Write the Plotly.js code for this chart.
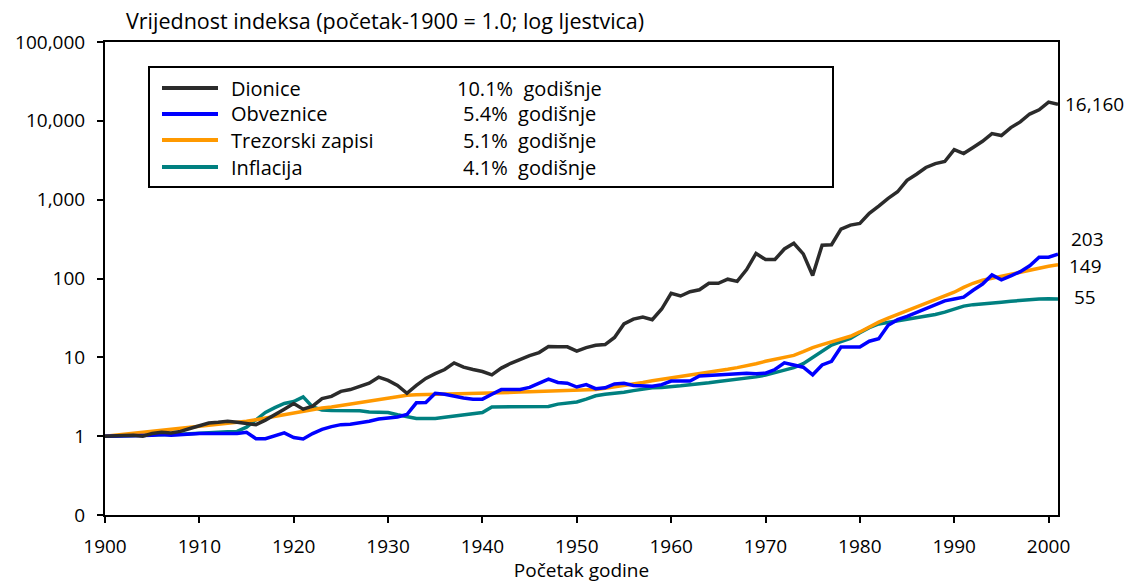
<!DOCTYPE html>
<html>
<head>
<meta charset="utf-8">
<script src="https://cdn.plot.ly/plotly-3.0.1.min.js"></script>
<style>html,body{margin:0;padding:0;background:#fff;}#chart{width:1126px;height:583px;}</style>
</head>
<body>
<div id="chart"></div>
<script>
// ---- Data (index value, start-1900 = 1.0) ----
const years = [];
for (let y = 1900; y <= 2001; y++) years.push(y);

const dionice = [1.0,1.0,1.02,1.03,1.0,1.08,1.12,1.1,1.15,1.25,
  1.35,1.47,1.5,1.55,1.5,1.45,1.4,1.6,1.9,2.2,
  2.6,2.2,2.4,3.0,3.2,3.7,3.9,4.3,4.7,5.6,
  5.1,4.4,3.5,4.4,5.4,6.2,7.0,8.5,7.5,7.0,
  6.6,6.0,7.3,8.4,9.5,10.5,11.5,13.7,13.6,13.6,
  12.0,13.3,14.2,14.5,17.9,26.5,30.5,32.5,30.0,41,
  65,60,68,72,87,87,98,92,130,208,
  174,174,237,280,205,109,265,268,422,475,
  500,670,830,1040,1260,1760,2100,2560,2870,3050,
  4300,3850,4600,5500,6900,6500,8200,9700,12200,13800,
  17300,16160];

const obveznice = [1.0,1.0,1.0,1.0,1.02,1.03,1.05,1.03,1.05,1.08,
  1.08,1.08,1.08,1.08,1.08,1.12,0.93,0.93,1.0,1.1,
  0.96,0.92,1.08,1.22,1.32,1.4,1.42,1.47,1.55,1.65,
  1.68,1.75,1.88,2.65,2.68,3.5,3.4,3.2,3.05,2.95,
  2.95,3.4,3.9,3.9,3.9,4.15,4.7,5.3,4.8,4.7,
  4.2,4.5,4.0,4.1,4.6,4.7,4.4,4.3,4.3,4.5,
  5.0,5.0,5.0,5.8,5.9,5.9,6.0,6.2,6.3,6.2,
  6.3,7.0,8.5,8.0,7.5,6.0,8.0,8.9,13.5,13.5,
  13.5,16.0,17.2,25.5,30,33,37,42,47,52,
  55,58,71,85,111,96,108,122,145,186,
  186,203];

const trezorski = [1.0,1.03,1.06,1.09,1.12,1.15,1.18,1.22,1.26,1.29,
  1.32,1.36,1.4,1.44,1.5,1.55,1.62,1.7,1.78,1.87,
  1.97,2.1,2.2,2.27,2.35,2.45,2.56,2.68,2.8,2.93,
  3.08,3.18,3.3,3.35,3.37,3.38,3.39,3.4,3.42,3.43,
  3.46,3.5,3.54,3.58,3.62,3.66,3.7,3.73,3.76,3.78,
  3.8,3.83,3.9,4.05,4.2,4.35,4.55,4.8,5.05,5.25,
  5.45,5.7,5.95,6.15,6.4,6.7,7.05,7.4,7.8,8.3,
  8.9,9.5,10.0,10.6,11.8,13.3,14.5,15.8,17.0,18.5,
  21.0,24.5,28.0,31.5,35,38.5,43,48,53,59,
  67,77,87,95,101,107,114,120,127,135,
  143,149];

const inflacija = [1.0,1.0,1.01,1.02,1.03,1.03,1.04,1.05,1.06,1.07,
  1.08,1.1,1.12,1.14,1.15,1.3,1.6,2.0,2.3,2.6,
  2.75,3.15,2.35,2.15,2.12,2.13,2.13,2.1,2.02,2.0,
  2.0,1.87,1.75,1.68,1.67,1.68,1.74,1.8,1.84,1.9,
  2.0,2.35,2.35,2.35,2.35,2.35,2.36,2.38,2.55,2.65,
  2.72,2.95,3.25,3.4,3.48,3.6,3.78,3.95,4.1,4.15,
  4.2,4.35,4.5,4.6,4.75,4.95,5.1,5.25,5.4,5.65,
  5.95,6.4,6.9,7.4,8.3,10.0,12.2,14.3,15.8,17.4,
  20.5,23.8,26.5,27.7,29.2,30.6,32.3,33.4,35,37.4,
  40.8,44.6,46.6,47.4,48.6,50.0,51.5,53.0,54.5,55.0,
  55.3,55];

const seriesNames = ['Dionice','Obveznice','Trezorski zapisi','Inflacija'];
const seriesRates = ['10.1%\u00a0\u00a0godišnje','5.4%\u00a0\u00a0godišnje','5.1%\u00a0\u00a0godišnje','4.1%\u00a0\u00a0godišnje'];
const endLabels = ['16,160','203','149','55'];
const yTickVals = [0.1,1,10,100,1000,10000,100000];
const yTickText = ['0','1','10','100','1,000','10,000','100,000'];
const xTickVals = [1900,1910,1920,1930,1940,1950,1960,1970,1980,1990,2000];

// ---- Styling ----
const seriesData = [dionice, obveznice, trezorski, inflacija];
const colors = ['#2b2b2b','#0000ff','#ff9900','#008080'];
const FONT = '"Open Sans", "Noto Sans", sans-serif';
const TXT = 20, TICK = 19, END = 19, TITLE = 21.5;

const traces = seriesData.map((d, i) => ({
  x: years, y: d, type: 'scatter', mode: 'lines', name: seriesNames[i],
  line: {color: colors[i], width: 3.5}, hoverinfo: 'x+y+name'
}));
// draw order: inflation, bills, bonds, equities on top
const ordered = [traces[3], traces[2], traces[1], traces[0]];

// plot area in pixels
const L = 105, R = 1058, T = 42, B = 515;
const px = v => (v - L) / (R - L);
const py = v => (B - v) / (B - T);

const shapes = [
  // reference line at index = 1
  {type:'line', xref:'paper', yref:'y', x0:0, x1:1, y0:0, y1:0, line:{color:'#000', width:2}},
  // legend box
  {type:'rect', xref:'paper', yref:'paper', x0:px(149), x1:px(833), y0:py(67), y1:py(187),
   line:{color:'#000', width:2}, fillcolor:'#fff', layer:'above'}
];
const annotations = [
  {text:'Vrijednost indeksa (početak-1900 = 1.0; log ljestvica)', xref:'paper', yref:'paper',
   x:px(124), y:py(21), xanchor:'left', yanchor:'middle', showarrow:false, font:{family:FONT, size:TITLE, color:'#000'}}
];
const rowY = [88, 114, 140, 167];
seriesNames.forEach((n, i) => {
  shapes.push({type:'line', xref:'paper', yref:'paper', x0:px(162), x1:px(218), y0:py(rowY[i]), y1:py(rowY[i]),
    line:{color:colors[i], width:4}, layer:'above'});
  annotations.push({text:n, xref:'paper', yref:'paper', x:px(229), y:py(rowY[i]), xanchor:'left', yanchor:'middle',
    showarrow:false, font:{family:FONT, size:TXT, color:'#000'}});
  annotations.push({text:seriesRates[i], xref:'paper', yref:'paper', x:px(529), y:py(rowY[i]), xanchor:'center', yanchor:'middle',
    showarrow:false, font:{family:FONT, size:TXT, color:'#000'}});
});
const endShiftX = [5, 11, 9, 14];
const endShiftY = [0, 15, -1, 2];
seriesData.forEach((d, i) => {
  annotations.push({text:endLabels[i], xref:'paper', yref:'y', x:1, y:Math.log10(d[d.length-1]),
    xanchor:'left', yanchor:'middle', xshift:endShiftX[i], yshift:endShiftY[i], showarrow:false,
    font:{family:FONT, size:END, color:'#000'}});
});

const layout = {
  width:1126, height:583,
  margin:{l:L, r:1126-R, t:T, b:583-B, pad:0},
  paper_bgcolor:'#fff', plot_bgcolor:'#fff',
  font:{family:FONT, size:TICK, color:'#000'},
  showlegend:false,
  xaxis:{range:[1900,2001], tickmode:'array', tickvals:xTickVals, ticks:'outside', ticklen:6, tickwidth:2,
    tickcolor:'#000', showline:true, linewidth:2, linecolor:'#000', mirror:true, showgrid:false, zeroline:false,
    ticklabelstandoff:7, tickfont:{family:FONT, size:TICK, color:'#000'},
    title:{text:'Početak godine', font:{family:FONT, size:TICK, color:'#000'}, standoff:1}, automargin:false},
  yaxis:{type:'log', range:[-1,5], tickmode:'array', tickvals:yTickVals, ticktext:yTickText, ticks:'outside',
    ticklen:6, tickwidth:2, tickcolor:'#000', showline:true, linewidth:2, linecolor:'#000', mirror:true,
    showgrid:false, zeroline:false, ticklabelstandoff:8, tickfont:{family:FONT, size:TICK, color:'#000'}, automargin:false},
  shapes: shapes,
  annotations: annotations
};

Plotly.newPlot('chart', ordered, layout, {displayModeBar:false, staticPlot:true});
</script>
</body>
</html>
